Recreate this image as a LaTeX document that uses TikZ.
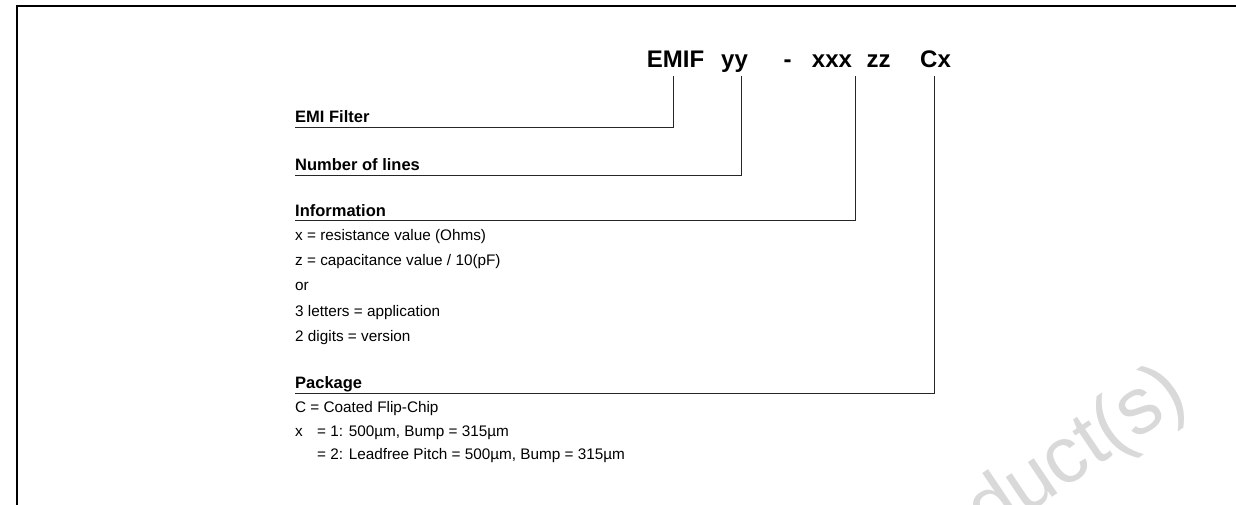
\documentclass[tikz,border=0pt]{standalone}
\usepackage{fontspec}
\setmainfont{Liberation Sans}
\begin{document}
\begin{tikzpicture}[x=1pt,y=-1pt,
  ttl/.style={font=\fontsize{24}{28}\selectfont\bfseries, anchor=base, inner sep=0pt},
  lab/.style={font=\fontsize{16.5}{19}\selectfont\bfseries, anchor=south west, inner xsep=0pt, inner ysep=4.5pt, text depth=0pt},
  txt/.style={font=\fontsize{15.3}{18}\selectfont, anchor=base west, inner sep=0pt},
  conn/.style={draw=black!85, line width=0.9pt},
  frame/.style={draw=black, line width=2.2pt},
  wm/.style={text=black!15, font=\fontsize{80}{88}\selectfont, anchor=base west, inner sep=0pt, rotate=34}]
\useasboundingbox (0,0) rectangle (1236,505);
\clip (0,0) rectangle (1236,505);
% frame
\coordinate (fa) at (16.7,505);
\coordinate (fb) at (16.7,6.2);
\coordinate (fc) at (1236,6.2);
\draw[frame] (fa) -- (fb) -- (fc);
% watermark
\node[wm] (wmk) at (988,540) {duct(s)};
% title
\node[ttl] (t1) at (675.5,68) {EMIF};
\node[ttl] (t2) at (734.5,68) {yy};
\node[ttl] (t3) at (787.5,68) {-};
\node[ttl] (t4) at (832,68) {xxx};
\node[ttl] (t5) at (878.5,68) {zz};
\node[ttl] (t6) at (935.5,68) {Cx};
% labels
\node[lab] (l1) at (295,127.3) {EMI Filter};
\node[lab] (l2) at (295,175) {Number of lines};
\node[lab] (l3) at (295,220.7) {Information};
\node[lab] (l4) at (295,393.3) {Package};
% connector top ends
\coordinate (e1) at (673.3,76);
\coordinate (e2) at (741.8,76);
\coordinate (e3) at (855.5,76);
\coordinate (e4) at (934.3,76);
\draw[conn] (e1) |- (l1.south west);
\draw[conn] (e2) |- (l2.south west);
\draw[conn] (e3) |- (l3.south west);
\draw[conn] (e4) |- (l4.south west);
% description texts
\node[txt] (d1) at (295,240.7) {x = resistance value (Ohms)};
\node[txt] (d2) at (295,265.5) {z = capacitance value / 10(pF)};
\node[txt] (d3) at (295,290.5) {or};
\node[txt] (d4) at (295,316) {3 letters = application};
\node[txt] (d5) at (295,341.5) {2 digits = version};
\node[txt] (p1) at (295,412.7) {C = Coated Flip-Chip};
\node[txt] (p2) at (295,436.5) {x};
\node[txt] (p3) at (317,436.5) {= 1: 500µm, Bump = 315µm};
\node[txt] (p4) at (317,459.3) {= 2: Leadfree Pitch = 500µm, Bump = 315µm};
\end{tikzpicture}
\end{document}
